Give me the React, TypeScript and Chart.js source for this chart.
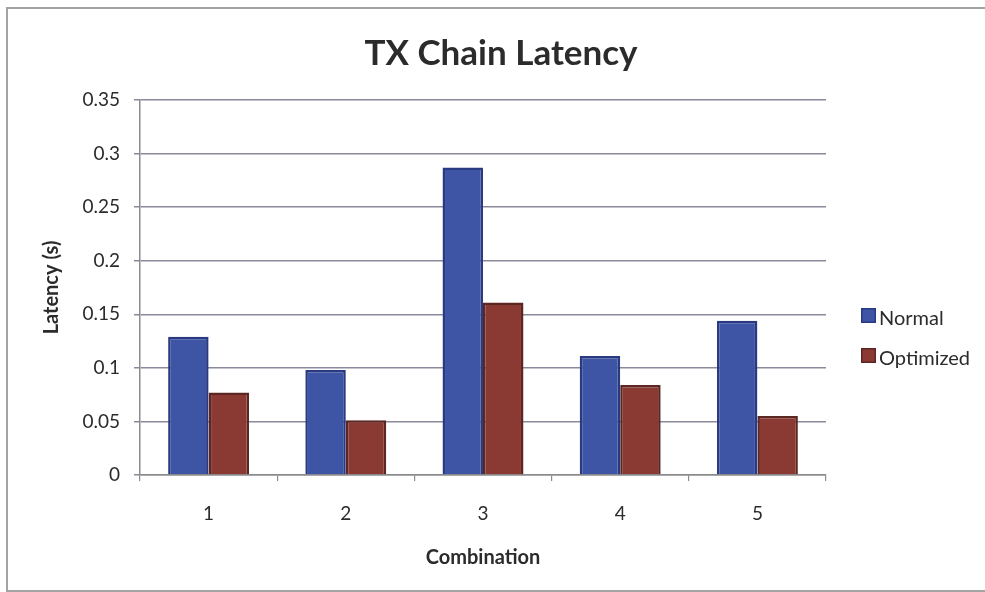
import React, { useEffect, useRef } from 'react';
import { Chart, registerables } from 'chart.js';

Chart.register(...registerables);

// Latency per test combination, in seconds
const categories = ['1', '2', '3', '4', '5'];
const normalLatency = [0.129, 0.098, 0.287, 0.111, 0.144];
const optimizedLatency = [0.077, 0.051, 0.161, 0.084, 0.055];
const seriesNames = ['Normal', 'Optimized'];

const FONT = 'Lato, "Open Sans", sans-serif';
const TEXT = '#2b2b2b';
const GRID = '#8a8a9c';
const AXIS = '#8c8c8c';

// Legend drawn at the right of the plot, one swatch per dataset
const sideLegend = {
  id: 'sideLegend',
  afterDraw(chart: any) {
    const { ctx } = chart;
    const x = 861;
    const firstBaseline = 325;
    const gap = 40;
    const box = 15;
    ctx.save();
    chart.data.datasets.forEach((ds: any, i: number) => {
      const base = firstBaseline + i * gap;
      const top = base - 17;
      ctx.fillStyle = ds.backgroundColor;
      ctx.fillRect(x, top, box, box);
      ctx.strokeStyle = ds.borderColor;
      ctx.lineWidth = 1.5;
      ctx.strokeRect(x + 0.75, top + 0.75, box - 1.5, box - 1.5);
      ctx.fillStyle = TEXT;
      ctx.font = `20px ${FONT}`;
      ctx.textBaseline = 'alphabetic';
      ctx.textAlign = 'left';
      ctx.fillText(ds.label, x + box + 3, base);
    });
    ctx.restore();
  },
};

export default function App() {
  const canvasRef = useRef<HTMLCanvasElement | null>(null);

  useEffect(() => {
    const canvas = canvasRef.current;
    if (!canvas) return;
    const chart = new Chart(canvas, {
      type: 'bar',
      data: {
        labels: categories,
        datasets: [
          {
            label: seriesNames[0],
            data: normalLatency,
            backgroundColor: '#3e55a6',
            borderColor: '#2a3a80',
            borderWidth: 2.5,
            categoryPercentage: 0.59,
            barPercentage: 1,
          },
          {
            label: seriesNames[1],
            data: optimizedLatency,
            backgroundColor: '#8b3a33',
            borderColor: '#5c2722',
            borderWidth: 2.5,
            categoryPercentage: 0.59,
            barPercentage: 1,
          },
        ],
      },
      options: {
        responsive: false,
        animation: false,
        devicePixelRatio: 1,
        layout: { padding: { left: 17, right: 0, top: 0, bottom: 0 } },
        plugins: {
          legend: { display: false },
          tooltip: { enabled: false },
          title: {
            display: true,
            text: 'TX Chain Latency',
            color: TEXT,
            font: { family: FONT, size: 35, weight: 'bold' },
            padding: { top: 33, bottom: 25 },
          },
        },
        scales: {
          x: {
            grid: {
              display: true,
              drawOnChartArea: false,
              drawTicks: true,
              tickLength: 6,
              color: AXIS,
              lineWidth: 1.2,
            },
            border: { display: true, color: AXIS, width: 1.5 },
            ticks: {
              color: TEXT,
              font: { family: FONT, size: 19 },
              padding: 21,
            },
            title: {
              display: true,
              text: 'Combination',
              color: TEXT,
              font: { family: FONT, size: 20, weight: 'bold' },
              padding: { top: 0, bottom: 22 },
            },
            afterFit(scale: any) {
              scale.height = 117;
            },
          },
          y: {
            min: 0,
            max: 0.35,
            grid: {
              color: GRID,
              lineWidth: 1.5,
              drawTicks: true,
              tickLength: 6,
            },
            border: { display: true, color: AXIS, width: 1.5 },
            ticks: {
              stepSize: 0.05,
              color: TEXT,
              font: { family: FONT, size: 19 },
              padding: 14,
              callback: (v: any) => String(Number(Number(v).toFixed(2))),
            },
            title: {
              display: true,
              text: 'Latency (s)',
              color: TEXT,
              font: { family: FONT, size: 20, weight: 'bold' },
              padding: { top: 23, bottom: 0 },
            },
            afterFit(scale: any) {
              scale.width = 123;
            },
          },
          // empty band on the right that holds the legend
          legendSpace: {
            type: 'linear',
            position: 'right',
            display: true,
            grid: { display: false, drawTicks: false },
            border: { display: false },
            ticks: { display: false },
            afterFit(scale: any) {
              scale.width = 159;
            },
          },
        },
      },
      plugins: [sideLegend],
    });
    return () => chart.destroy();
  }, []);

  return (
    <div
      style={{
        position: 'fixed',
        left: 0,
        top: 0,
        width: 985,
        height: 592,
        background: '#ffffff',
        overflow: 'hidden',
      }}
    >
      <canvas ref={canvasRef} width={985} height={592} style={{ position: 'absolute', left: 0, top: 0 }} />
      <div
        style={{
          position: 'absolute',
          left: 6,
          top: 7,
          width: 1000,
          height: 581,
          borderTop: '2px solid #a3a3a3',
          borderLeft: '2px solid #a3a3a3',
          borderBottom: '2px solid #a3a3a3',
          pointerEvents: 'none',
        }}
      />
    </div>
  );
}
